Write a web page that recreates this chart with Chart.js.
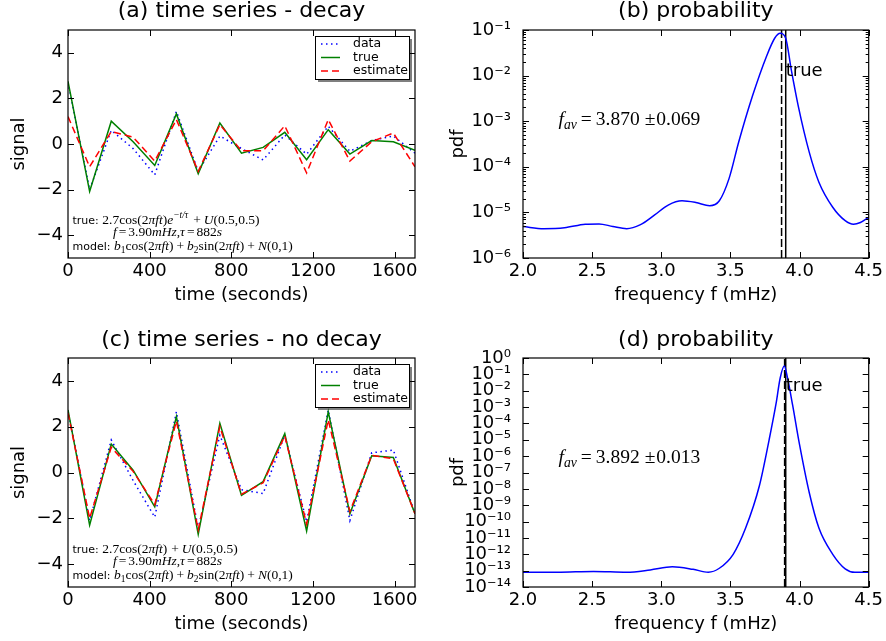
<!DOCTYPE html>
<html>
<head>
<meta charset="utf-8">
<script src="https://cdn.jsdelivr.net/npm/chart.js@4.4.0/dist/chart.umd.min.js"></script>
<style>
  body { margin: 0; background: #fff; width: 886px; height: 641px; position: relative; overflow: hidden; }
  canvas { position: absolute; }
</style>
</head>
<body>
<canvas id="chartA" width="443" height="320" style="left:0;top:0"></canvas>
<canvas id="chartB" width="443" height="320" style="left:443px;top:0"></canvas>
<canvas id="chartC" width="443" height="321" style="left:0;top:320px"></canvas>
<canvas id="chartD" width="443" height="321" style="left:443px;top:320px"></canvas>
<script>
// time axis (seconds)
const times = [0, 106, 212, 319, 425, 531, 638, 744, 850, 956, 1062, 1169, 1275, 1381, 1488, 1594, 1700];
const timeTicks = [0, 400, 800, 1200, 1600];
const signalTicks = [-4, -2, 0, 2, 4];

// (a) decay
const dataA = [2.7, -2.0, 0.6, -0.2, -1.35, 1.43, -1.2, 0.35, -0.2, -0.7, 0.4, -0.45, 0.78, -0.32, 0.15, 0.35, -0.4];
const trueA = [2.75, -2.08, 1.0, 0.1, -0.94, 1.32, -1.3, 0.92, -0.4, -0.15, 0.51, -0.69, 0.63, -0.44, 0.15, 0.1, -0.28];
const estA = [1.2, -1.0, 0.55, 0.3, -0.75, 1.07, -1.2, 0.85, -0.3, -0.3, 0.8, -1.27, 1.07, -0.75, 0.1, 0.48, -1.0];

// (c) no decay
const dataC = [2.7, -2.1, 1.42, -0.35, -1.95, 2.65, -2.45, 1.63, -0.75, -0.92, 1.63, -2.15, 2.73, -2.1, 0.86, 0.98, -1.8];
const trueC = [2.73, -2.3, 1.24, 0.1, -1.5, 2.44, -2.7, 2.15, -1.0, -0.4, 1.7, -2.55, 2.65, -1.8, 0.73, 0.66, -1.8];
const estC = [2.6, -2.0, 1.1, 0.05, -1.4, 2.25, -2.5, 2.0, -0.95, -0.45, 1.6, -2.25, 2.3, -1.7, 0.75, 0.6, -1.8];

// (b) probability
const freqB = [2.00, 2.15, 2.30, 2.45, 2.55, 2.65, 2.75, 2.85, 2.95, 3.05, 3.15, 3.25, 3.35, 3.42, 3.49, 3.56, 3.66, 3.76, 3.82, 3.86, 3.90, 3.94, 3.99, 4.07, 4.14, 4.24, 4.33, 4.39, 4.44, 4.50];
const pdfB = [4.9e-6, 4.4e-6, 4.6e-6, 5.5e-6, 5.6e-6, 4.9e-6, 4.4e-6, 5.4e-6, 8.7e-6, 1.45e-5, 1.8e-5, 1.65e-5, 1.4e-5, 1.8e-5, 5.5e-5, 3.5e-4, 3.6e-3, 2.6e-2, 6.6e-2, 8.5e-2, 6.6e-2, 1.35e-2, 2.2e-3, 2.1e-4, 4.6e-5, 1.3e-5, 6.6e-6, 5.5e-6, 6.0e-6, 7.8e-6];
const freqTicks = [2.0, 2.5, 3.0, 3.5, 4.0, 4.5];
const decadesB = [-6, -5, -4, -3, -2, -1];
const estFreqB = 3.870;

// (d) probability
const freqD = [2.00, 2.25, 2.51, 2.75, 2.92, 3.08, 3.23, 3.34, 3.42, 3.52, 3.61, 3.71, 3.78, 3.83, 3.86, 3.89, 3.91, 3.95, 4.00, 4.07, 4.14, 4.24, 4.33, 4.40, 4.50];
const pdfD = [8e-14, 8e-14, 9e-14, 8e-14, 1.1e-13, 1.7e-13, 1.2e-13, 8e-14, 1.4e-13, 1e-12, 4e-11, 1.6e-8, 1e-5, 1.6e-3, 6e-2, 3.2e-1, 8e-2, 1.3e-3, 5e-6, 6e-9, 4e-11, 1e-12, 1.3e-13, 8e-14, 8e-14];
const decadesD = [-14, -13, -12, -11, -10, -9, -8, -7, -6, -5, -4, -3, -2, -1, 0];
const estFreqD = 3.892;

const trueFreq = 3.90;

const SUP = { '0': '⁰', '1': '¹', '2': '²', '3': '³', '4': '⁴', '5': '⁵', '6': '⁶', '7': '⁷', '8': '⁸', '9': '⁹', '-': '⁻' };
function pow10Label(v) {
    const e = String(Math.round(Math.log10(v)));
    return '10' + e.split('').map(c => SUP[c]).join('');
}

function xy(xs, ys) {
    return xs.map((x, i) => ({ x: x, y: ys[i] }));
}

function line(ctx, x1, y1, x2, y2) {
    ctx.beginPath();
    ctx.moveTo(x1, y1);
    ctx.lineTo(x2, y2);
    ctx.stroke();
}

// draws mixed sans / serif-math text piece by piece
function drawRich(ctx, x, y, parts, size, sansSize) {
    parts.forEach(p => {
        const s = (p.sub || p.sup) ? size * 0.7 : size;
        const fam = p.sans ? '"DejaVu Sans"' : '"Liberation Serif"';
        const fs = p.sans ? sansSize : s;
        ctx.font = (p.it ? 'italic ' : '') + fs + 'px ' + fam;
        const dy = p.sub ? size * 0.22 : (p.sup ? -size * 0.42 : 0);
        x += p.gap || 0;
        ctx.fillText(p.t, x, y + dy);
        x += ctx.measureText(p.t).width;
    });
}

const decor = {
    id: 'decor',
    afterDatasetsDraw(chart, args, opts) {
        const ctx = chart.ctx;
        const a = chart.chartArea;
        const xs = chart.scales.x, ys = chart.scales.y;
        ctx.save();
        ctx.strokeStyle = '#000';
        ctx.lineWidth = 1;
        ctx.setLineDash([]);
        xs.ticks.forEach(t => {
            const p = Math.round(xs.getPixelForValue(t.value)) + 0.5;
            line(ctx, p, a.bottom, p, a.bottom - 6);
            line(ctx, p, a.top, p, a.top + 6);
        });
        ys.ticks.forEach(t => {
            const p = Math.round(ys.getPixelForValue(t.value)) + 0.5;
            line(ctx, a.left, p, a.left + 6, p);
            line(ctx, a.right, p, a.right - 6, p);
        });
        if (opts.minor) {
            opts.minor.forEach(e => {
                for (let m = 2; m <= 9; m++) {
                    const p = Math.round(ys.getPixelForValue(m * Math.pow(10, e))) + 0.5;
                    line(ctx, a.left, p, a.left + 3, p);
                    line(ctx, a.right, p, a.right - 3, p);
                }
            });
        }
        ctx.lineWidth = 1.2;
        ctx.strokeRect(a.left, a.top, a.right - a.left, a.bottom - a.top);

        ctx.fillStyle = '#000';
        ctx.textBaseline = 'alphabetic';
        ctx.textAlign = 'left';

        if (opts.legend) {
            const L = a.right - 100, T = a.top + 6, W = 94, H = 43;
            ctx.fillStyle = 'rgba(0,0,0,0.5)';
            ctx.fillRect(L + 3, T + 3, W, H);
            ctx.fillStyle = '#fff';
            ctx.fillRect(L, T, W, H);
            ctx.lineWidth = 1;
            ctx.strokeStyle = '#000';
            ctx.strokeRect(L + 0.5, T + 0.5, W, H);
            const rows = [8, 21.5, 35];
            chart.data.datasets.slice(0, 3).forEach((ds, i) => {
                const yy = T + rows[i];
                ctx.strokeStyle = ds.borderColor;
                ctx.lineWidth = ds.borderWidth;
                ctx.setLineDash(ds.borderDash || []);
                line(ctx, L + 6, yy, L + 25, yy);
                ctx.setLineDash([]);
                ctx.fillStyle = '#000';
                ctx.font = '12.5px "DejaVu Sans"';
                ctx.textBaseline = 'middle';
                ctx.fillText(ds.label, L + 38, yy);
            });
            ctx.textBaseline = 'alphabetic';
        }

        if (opts.formula) {
            ctx.fillStyle = '#000';
            drawRich(ctx, a.left + 4.5, a.bottom - 34, opts.formula[0], 13.5, 11);
            drawRich(ctx, a.left + 45, a.bottom - 22, opts.formula[1], 13.5, 11);
            drawRich(ctx, a.left + 4.5, a.bottom - 8, opts.formula[2], 13.5, 11);
        }

        if (opts.fav) {
            ctx.fillStyle = '#000';
            drawRich(ctx, a.left + 35.5, a.top + opts.favTop, [
                { t: 'f', it: true },
                { t: 'av', it: true, sub: true },
                { t: '=', gap: 4 },
                { t: opts.fav[0], gap: 4 },
                { t: '±', gap: 5 },
                { t: opts.fav[1], gap: 1 }
            ], 19.5, 18);
        }

        if (opts.trueLabel) {
            ctx.fillStyle = '#000';
            ctx.font = '18px "DejaVu Sans"';
            ctx.fillText('true', xs.getPixelForValue(trueFreq), ys.getPixelForValue(1e-2));
        }
        ctx.restore();
    }
};

const formulaTail = [
    [{ t: 'f', it: true }, { t: '=', gap: 2 }, { t: '3.90', gap: 2 }, { t: 'mHz', it: true }, { t: ',' }, { t: 'τ', it: true }, { t: '=', gap: 2 }, { t: '882', gap: 2 }, { t: 's', it: true }],
    [{ t: 'model: ', sans: true }, { t: 'b', it: true }, { t: '1', sub: true }, { t: 'cos(2' }, { t: 'π', it: true }, { t: 'ft', it: true }, { t: ')' }, { t: '+', gap: 3 }, { t: 'b', it: true, gap: 3 }, { t: '2', sub: true }, { t: 'sin(2' }, { t: 'π', it: true }, { t: 'ft', it: true }, { t: ')' }, { t: '+', gap: 3 }, { t: 'N', it: true, gap: 3 }, { t: '(0,1)' }]
];
const formulaA = [
    [{ t: 'true: ', sans: true }, { t: '2.7cos(2' }, { t: 'π', it: true }, { t: 'ft', it: true }, { t: ')' }, { t: 'e', it: true }, { t: '−t/τ', it: true, sup: true }, { t: '+', gap: 5 }, { t: 'U', it: true, gap: 3 }, { t: '(0.5,0.5)' }],
    formulaTail[0], formulaTail[1]
];
const formulaC = [
    [{ t: 'true: ', sans: true }, { t: '2.7cos(2' }, { t: 'π', it: true }, { t: 'ft', it: true }, { t: ')' }, { t: '+', gap: 4 }, { t: 'U', it: true, gap: 3 }, { t: '(0.5,0.5)' }],
    formulaTail[0], formulaTail[1]
];

const FONT = { family: '"DejaVu Sans"', size: 18 };
const TITLE_FONT = { family: '"DejaVu Sans"', size: 22, weight: 'normal', lineHeight: 1 };

function timeSeries(id, title, d, tr, es, formula, bottomH, titlePad, xTitlePad) {
    new Chart(document.getElementById(id), {
        type: 'line',
        data: {
            datasets: [
                { label: 'data', data: xy(times, d), borderColor: '#0000ff', borderWidth: 1.5, borderDash: [1.5, 3.5], pointRadius: 0, order: 3 },
                { label: 'true', data: xy(times, tr), borderColor: '#008000', borderWidth: 1.5, pointRadius: 0, order: 2 },
                { label: 'estimate', data: xy(times, es), borderColor: '#ff0000', borderWidth: 1.5, borderDash: [7, 4], pointRadius: 0, order: 1 }
            ]
        },
        options: {
            responsive: false,
            animation: false,
            devicePixelRatio: 1,
            layout: { padding: { left: 0, right: 28, top: 0, bottom: 0 } },
            plugins: {
                legend: { display: false },
                tooltip: { enabled: false },
                title: { display: true, text: title, fullSize: false, color: '#000', font: TITLE_FONT, padding: titlePad },
                decor: { legend: true, formula: formula }
            },
            scales: {
                x: {
                    type: 'linear', min: 0, max: 1700,
                    grid: { display: false, drawTicks: false }, border: { display: false },
                    afterBuildTicks: s => { s.ticks = timeTicks.map(v => ({ value: v })); },
                    afterFit: s => { s.height = bottomH; },
                    ticks: { autoSkip: false, maxRotation: 0, padding: 3, color: '#000', font: FONT, callback: v => String(v) },
                    title: { display: true, text: 'time (seconds)', color: '#000', font: FONT, padding: { top: 0, bottom: xTitlePad } }
                },
                y: {
                    type: 'linear', min: -5, max: 5,
                    grid: { display: false, drawTicks: false }, border: { display: false },
                    afterBuildTicks: s => { s.ticks = signalTicks.map(v => ({ value: v })); },
                    afterFit: s => { s.width = 68; },
                    ticks: { autoSkip: false, padding: 5, color: '#000', font: FONT, callback: v => String(v).replace('-', '−') },
                    title: { display: true, text: 'signal', color: '#000', font: FONT, padding: { top: 9, bottom: 0 } }
                }
            }
        },
        plugins: [decor]
    });
}

function probability(id, title, fr, pdf, estF, decades, minor, favText, favTop, bottomH, titlePad, xTitlePad) {
    const lo = Math.pow(10, decades[0]), hi = Math.pow(10, decades[decades.length - 1]);
    new Chart(document.getElementById(id), {
        type: 'line',
        data: {
            datasets: [
                { label: 'pdf', data: xy(fr, pdf), borderColor: '#0000ff', borderWidth: 1.5, pointRadius: 0, cubicInterpolationMode: 'monotone' },
                { label: 'estimate', data: xy([estF, estF], [lo, hi]), borderColor: '#000', borderWidth: 1.5, borderDash: [8, 3], pointRadius: 0 },
                { label: 'true', data: xy([trueFreq, trueFreq], [lo, hi]), borderColor: '#000', borderWidth: 1.5, pointRadius: 0 }
            ]
        },
        options: {
            responsive: false,
            animation: false,
            devicePixelRatio: 1,
            layout: { padding: { left: 0, right: 16, top: 0, bottom: 0 } },
            plugins: {
                legend: { display: false },
                tooltip: { enabled: false },
                title: { display: true, text: title, fullSize: false, color: '#000', font: TITLE_FONT, padding: titlePad },
                decor: { minor: minor, fav: favText, favTop: favTop, trueLabel: true }
            },
            scales: {
                x: {
                    type: 'linear', min: 2.0, max: 4.5,
                    grid: { display: false, drawTicks: false }, border: { display: false },
                    afterBuildTicks: s => { s.ticks = freqTicks.map(v => ({ value: v })); },
                    afterFit: s => { s.height = bottomH; },
                    ticks: { autoSkip: false, maxRotation: 0, padding: 3, color: '#000', font: FONT, callback: v => Number(v).toFixed(1) },
                    title: { display: true, text: 'frequency f (mHz)', color: '#000', font: FONT, padding: { top: 0, bottom: xTitlePad } }
                },
                y: {
                    type: 'logarithmic', min: lo, max: hi,
                    grid: { display: false, drawTicks: false }, border: { display: false },
                    afterBuildTicks: s => { s.ticks = decades.map(e => ({ value: Math.pow(10, e) })); },
                    afterFit: s => { s.width = 80; },
                    ticks: { autoSkip: false, padding: 12, color: '#000', font: FONT, callback: v => pow10Label(v) },
                    title: { display: true, text: 'pdf', color: '#000', font: FONT, padding: { top: 5, bottom: 0 } }
                }
            }
        },
        plugins: [decor]
    });
}

timeSeries('chartA', '(a) time series - decay', dataA, trueA, estA, formulaA, 62, { top: 0, bottom: 8 }, 13.4);
probability('chartB', '(b) probability', freqB, pdfB, estFreqB, decadesB, [-6, -5, -4, -3, -2], ['3.870', '0.069'], 95, 62, { top: 0, bottom: 8 }, 13.4);
timeSeries('chartC', '(c) time series - no decay', dataC, trueC, estC, formulaC, 54, { top: 9, bottom: 7 }, 5.4);
probability('chartD', '(d) probability', freqD, pdfD, estFreqD, decadesD, null, ['3.892', '0.013'], 105, 54, { top: 9, bottom: 7 }, 5.4);
</script>
</body>
</html>
